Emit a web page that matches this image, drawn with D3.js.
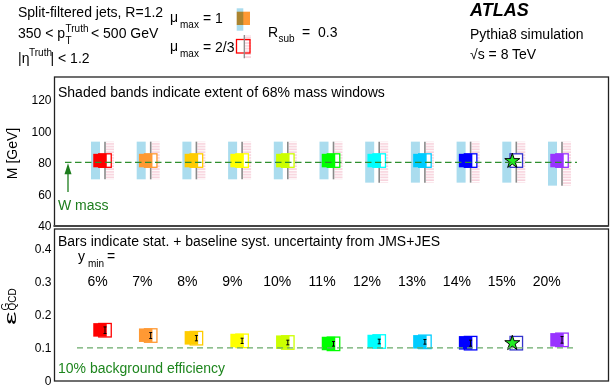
<!DOCTYPE html>
<html>
<head>
<meta charset="utf-8">
<script src="https://cdn.jsdelivr.net/npm/d3@7"></script>
<style>
  html, body { margin: 0; padding: 0; background: #fff; }
  svg { display: block; }
  text { font-family: "Liberation Sans", Arial, Helvetica, sans-serif; fill: #000; }
</style>
</head>
<body>
<svg id="chart" width="610" height="390"></svg>
<script>
// ---------------- data ----------------
const yMinLabels = ["6%", "7%", "8%", "9%", "10%", "11%", "12%", "13%", "14%", "15%", "20%"];
// reconstructed jet mass (GeV), mu_max = 1 (filled) and mu_max = 2/3 (open)
const massMu1  = [81.5, 81.5, 81.5, 81.5, 81.5, 81.5, 81.5, 81.5, 81.5, 81.5, 81.5];
const massMu23 = [81.5, 81.5, 81.5, 81.5, 81.5, 81.5, 81.5, 81.5, 81.5, 81.5, 81.5];
// 68% mass window extent
const windowLoMu1  = [69.6, 69.6, 69.6, 69.6, 69.6, 69.6, 67.5, 67.5, 67.5, 67.5, 65.6];
const windowHiMu1  = [93.5, 93.5, 93.5, 93.5, 93.5, 93.5, 93.5, 93.5, 93.5, 93.5, 93.5];
const windowLoMu23 = [69.6, 69.6, 69.6, 69.6, 69.6, 69.6, 67.5, 67.5, 67.5, 67.5, 65.6];
const windowHiMu23 = [93.5, 93.5, 93.5, 93.5, 93.5, 93.5, 93.5, 93.5, 93.5, 93.5, 93.5];
// QCD background efficiency
const effMu1  = [0.154, 0.138, 0.130, 0.122, 0.117, 0.113, 0.119, 0.118, 0.115, 0.114, 0.124];
const effMu23 = [0.153, 0.137, 0.129, 0.121, 0.116, 0.112, 0.119, 0.118, 0.114, 0.114, 0.124];
const effErr  = [0.010, 0.009, 0.008, 0.008, 0.007, 0.007, 0.007, 0.007, 0.009, 0.008, 0.010];
const optimalIndex = 9;   // configuration marked with a star
const wMass = 80.4;
const bkgEffRef = 0.10;
const massTicks = [40, 60, 80, 100, 120];
const effTicks = [0, 0.1, 0.2, 0.3, 0.4];

// ---------------- style ----------------
const colors = ["#ff0000", "#ff9933", "#ffcc00", "#ffff00", "#ccff00", "#00ff00",
                "#00ffff", "#00ccff", "#0000ff", "#3333cc", "#9933ff"];
const bandColor = "#aadcee";
const hatchColor = "#f2b4c4";
const FONT = 14;

const svg = d3.select("#chart");
const defs = svg.append("defs");
const pat = defs.append("pattern").attr("id", "hatch").attr("patternUnits", "userSpaceOnUse")
  .attr("width", 4).attr("height", 2.8);
pat.append("line").attr("x1", 0).attr("x2", 4).attr("y1", 1).attr("y2", 1)
  .attr("stroke", hatchColor).attr("stroke-width", 1);

// layout
const left = 54.5, right = 608.5;
const upTop = 77, upBot = 226;
const loTop = 229, loBot = 381;

const idx = d3.range(yMinLabels.length);
const x = d3.scalePoint().domain(idx).range([105, 562]);
const xLab = d3.scalePoint().domain(idx).range([97.5, 546.7]);
const yM = d3.scaleLinear().domain([40, 134.5]).range([upBot, upTop]);
const yE = d3.scaleLinear().domain([0, 0.458]).range([loBot, loTop]);

// ---------------- frames ----------------
svg.append("rect").attr("x", left).attr("y", upTop).attr("width", right - left).attr("height", upBot - upTop)
  .attr("fill", "#fff").attr("stroke", "#222").attr("stroke-width", 1.3);
svg.append("rect").attr("x", left).attr("y", loTop).attr("width", right - left).attr("height", loBot - loTop)
  .attr("fill", "#fff").attr("stroke", "#222").attr("stroke-width", 1.3);
svg.append("line").attr("x1", left - 1).attr("x2", right).attr("y1", upBot).attr("y2", upBot)
  .attr("stroke", "#444").attr("stroke-width", 2);

// ---------------- axes ----------------
const axM = svg.append("g").attr("transform", `translate(${left},0)`)
  .call(d3.axisLeft(yM).tickValues(massTicks).tickSize(0).tickPadding(3).tickFormat(d3.format("d")));
const axE = svg.append("g").attr("transform", `translate(${left},0)`)
  .call(d3.axisLeft(yE).tickValues(effTicks).tickSize(0).tickPadding(3)
    .tickFormat(d => d === 0 ? "0" : d3.format(".1f")(d)));
[axM, axE].forEach(a => {
  a.select(".domain").remove();
  a.selectAll("text").attr("font-size", 12).attr("font-family", "Liberation Sans, Arial, sans-serif").attr("fill", "#000");
});

// axis titles
svg.append("text").attr("transform", `translate(16.5,${(upTop + upBot) / 2 + 2}) rotate(-90)`)
  .attr("text-anchor", "middle").attr("font-size", FONT).text("M [GeV]");
const eT = svg.append("g").attr("transform", "translate(15.5,325) rotate(-90)");
eT.append("text").attr("x", 0).attr("y", 0).attr("font-size", 16)
  .attr("textLength", 13.5).attr("lengthAdjust", "spacingAndGlyphs").text("ε");
eT.append("text").attr("x", 14.5).attr("y", -6.5).attr("font-size", 10).text("G");
eT.append("text").attr("x", 14.5).attr("y", 0.5).attr("font-size", 10).text("QCD");

// ---------------- upper panel ----------------
const up = svg.append("g");
const bandW = 9;
// mu_max=1 window bands
up.selectAll("rect.band").data(idx).join("rect").attr("class", "band")
  .attr("x", i => x(i) - 14).attr("width", bandW)
  .attr("y", i => yM(windowHiMu1[i])).attr("height", i => yM(windowLoMu1[i]) - yM(windowHiMu1[i]))
  .attr("fill", bandColor);
// mu_max=2/3 windows (hatched)
up.selectAll("rect.hatch").data(idx).join("rect").attr("class", "hatch")
  .attr("x", i => x(i) + 1).attr("width", 8)
  .attr("y", i => yM(windowHiMu23[i])).attr("height", i => yM(windowLoMu23[i]) - yM(windowHiMu23[i]))
  .attr("fill", "url(#hatch)");
up.selectAll("line.win").data(idx).join("line").attr("class", "win")
  .attr("x1", i => x(i)).attr("x2", i => x(i))
  .attr("y1", i => yM(windowHiMu23[i])).attr("y2", i => yM(windowLoMu23[i]))
  .attr("stroke", "#8a8a8a").attr("stroke-width", 1.6);

const SQ = 13.5;
function drawMarkers(g, yScale, vals1, vals23) {
  // open squares (mu_max = 2/3)
  g.selectAll("rect.open").data(idx).join("rect").attr("class", "open")
    .attr("x", i => x(i) - SQ / 2 + 0.5).attr("y", i => yScale(vals23[i]) - SQ / 2)
    .attr("width", SQ - 1).attr("height", SQ)
    .attr("fill", "#fff").attr("stroke", i => colors[i]).attr("stroke-width", 1.3);
  // filled squares (mu_max = 1)
  g.selectAll("rect.filled").data(idx.filter(i => i !== optimalIndex)).join("rect").attr("class", "filled")
    .attr("x", i => x(i) - 5 - SQ / 2).attr("y", i => yScale(vals1[i]) - SQ / 2)
    .attr("width", SQ).attr("height", SQ)
    .attr("fill", i => colors[i]);
}
drawMarkers(up, yM, massMu1, massMu23);

// star for the optimal configuration
const star = d3.symbol().type(d3.symbolStar).size(70);
up.append("path").attr("d", star)
  .attr("transform", `translate(${x(optimalIndex) - 4},${yM(massMu1[optimalIndex]) + 0.5})`)
  .attr("fill", "#22ee22").attr("stroke", "#000").attr("stroke-width", 1);

// W mass line
up.append("line").attr("x1", x(0) - 40).attr("x2", x(10) + 15)
  .attr("y1", yM(wMass)).attr("y2", yM(wMass))
  .attr("stroke", "#2f8f2f").attr("stroke-width", 1.3).attr("stroke-dasharray", "6.5,3.5");

// W mass arrow + label
const ax0 = x(0) - 37;
up.append("line").attr("x1", ax0).attr("x2", ax0).attr("y1", yM(61.5)).attr("y2", yM(wMass) + 10)
  .attr("stroke", "#1d7d1d").attr("stroke-width", 1.3);
up.append("path")
  .attr("d", `M${ax0},${yM(wMass) + 1} L${ax0 - 3.5},${yM(wMass) + 12} L${ax0 + 3.5},${yM(wMass) + 12} Z`)
  .attr("fill", "#1d7d1d");
up.append("text").attr("x", 58).attr("y", 210).attr("font-size", FONT).style("fill", "#1d7d1d").text("W mass");

up.append("text").attr("x", 58).attr("y", 97).attr("font-size", FONT)
  .text("Shaded bands indicate extent of 68% mass windows");

// ---------------- lower panel ----------------
const lo = svg.append("g");
drawMarkers(lo, yE, effMu1, effMu23);
// error bars
const eb = lo.selectAll("g.err").data(idx.filter(i => i !== optimalIndex)).join("g").attr("class", "err");
eb.append("line").attr("x1", i => x(i)).attr("x2", i => x(i))
  .attr("y1", i => yE(effMu23[i] + effErr[i])).attr("y2", i => yE(effMu23[i] - effErr[i]))
  .attr("stroke", "#000").attr("stroke-width", 1);
[1, -1].forEach(s => {
  eb.append("line").attr("x1", i => x(i) - 1.5).attr("x2", i => x(i) + 1.5)
    .attr("y1", i => yE(effMu23[i] + s * effErr[i])).attr("y2", i => yE(effMu23[i] + s * effErr[i]))
    .attr("stroke", "#000").attr("stroke-width", 1);
});
lo.append("path").attr("d", star)
  .attr("transform", `translate(${x(optimalIndex) - 4},${yE(effMu1[optimalIndex])})`)
  .attr("fill", "#22ee22").attr("stroke", "#000").attr("stroke-width", 1);

lo.append("line").attr("x1", x(0) - 28).attr("x2", x(10) + 15)
  .attr("y1", yE(bkgEffRef)).attr("y2", yE(bkgEffRef))
  .attr("stroke", "#6aaa6a").attr("stroke-width", 1.3).attr("stroke-dasharray", "6,4");

lo.append("text").attr("x", 58).attr("y", 245.5).attr("font-size", FONT)
  .text("Bars indicate stat. + baseline syst. uncertainty from JMS+JES");
lo.append("text").attr("x", 58).attr("y", 373).attr("font-size", FONT).style("fill", "#1e861e")
  .text("10% background efficiency");
// y_min =
lo.append("text").attr("x", 78).attr("y", 261).attr("font-size", FONT).text("y");
lo.append("text").attr("x", 88).attr("y", 266.5).attr("font-size", 10).text("min");
lo.append("text").attr("x", 107).attr("y", 261).attr("font-size", FONT).text("=");
lo.selectAll("text.lab").data(idx).join("text").attr("class", "lab")
  .attr("x", i => xLab(i)).attr("y", 286).attr("text-anchor", "middle").attr("font-size", FONT)
  .text(i => yMinLabels[i]);

// ---------------- header ----------------
const hd = svg.append("g");
function t(xp, yp, s, size, extra) {
  const e = hd.append("text").attr("x", xp).attr("y", yp).attr("font-size", size || FONT).text(s);
  if (extra) extra(e);
  return e;
}
t(18, 17, "Split-filtered jets, R=1.2");
t(18, 38.3, "350 < p");
t(65.5, 43.5, "T", 10);
t(65.5, 31.5, "Truth", 10);
t(91, 38.3, "< 500 GeV");
t(18, 62.7, "|η");
t(29, 56, "Truth", 10);
t(50.5, 62.7, "| < 1.2");

t(170, 22, "μ");
t(180, 28, "max", 10);
t(203, 22.7, "= 1");
t(170, 51, "μ");
t(180, 57, "max", 10);
t(203, 52, "= 2/3");

t(268, 37, "R");
t(278.5, 42, "sub", 10);
t(302, 37, "=");
t(318, 37, "0.3");

t(470, 15.5, "ATLAS", 18, e => e.attr("font-weight", "bold").attr("font-style", "italic"));
t(470, 39, "Pythia8 simulation");
t(470, 59, "√s = 8 TeV");

// legend markers
const lg = svg.append("g");
lg.append("rect").attr("x", 236.7).attr("y", 8.3).attr("width", 6.6).attr("height", 22.4).attr("fill", bandColor);
lg.append("rect").attr("x", 236.7).attr("y", 11.7).attr("width", 13.3).attr("height", 13.3)
  .attr("fill", colors[1]).style("mix-blend-mode", "multiply");
lg.append("rect").attr("x", 245).attr("y", 35).attr("width", 6).attr("height", 23.3).attr("fill", "url(#hatch)");
lg.append("rect").attr("x", 236.5).attr("y", 39.5).attr("width", 13.5).attr("height", 13.5)
  .attr("fill", "none").attr("stroke", colors[0]).attr("stroke-width", 1.3);
lg.append("line").attr("x1", 244.3).attr("x2", 244.3).attr("y1", 35).attr("y2", 58.3)
  .attr("stroke", "#8a8a8a").attr("stroke-width", 1.3);
</script>
</body>
</html>
